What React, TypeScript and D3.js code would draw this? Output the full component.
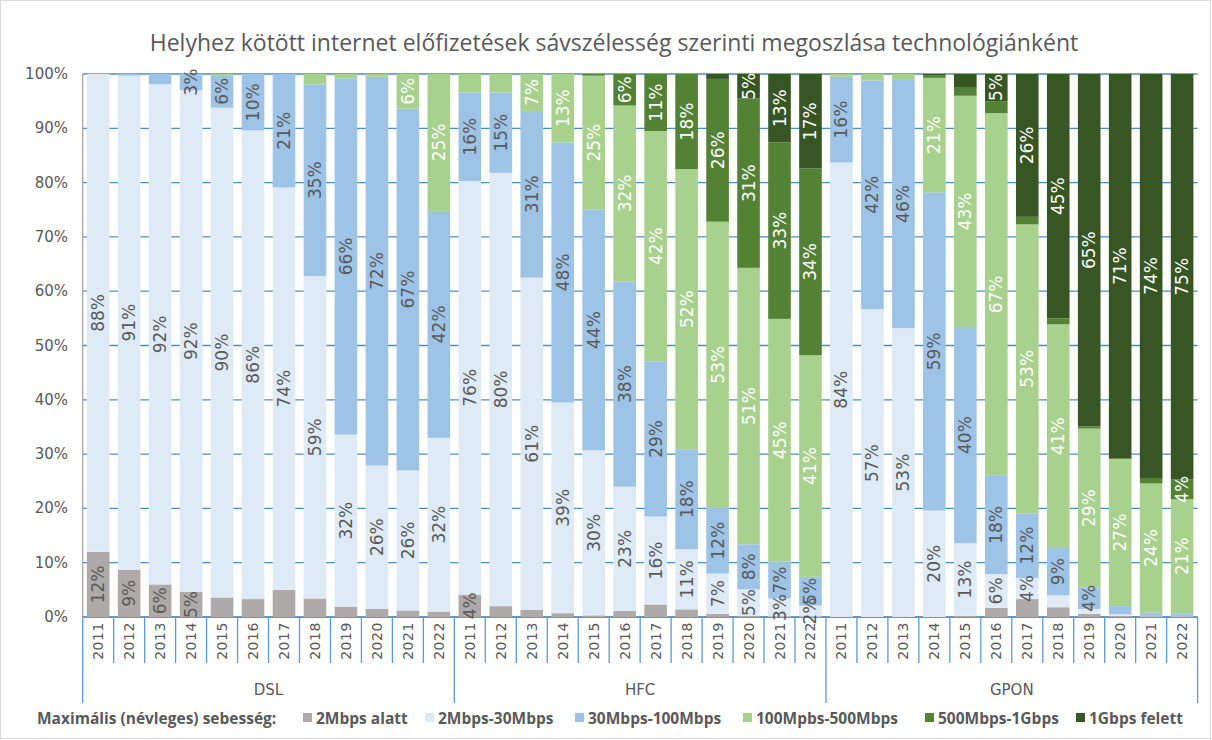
import React from 'react'
import * as d3 from 'd3'

const title = 'Helyhez kötött internet előfizetések sávszélesség szerinti megoszlása technológiánként'
const technologies = ['DSL', 'HFC', 'GPON']
const years = ['2011', '2012', '2013', '2014', '2015', '2016', '2017', '2018', '2019', '2020', '2021', '2022']
const seriesNames = ['2Mbps alatt', '2Mbps-30Mbps', '30Mbps-100Mbps', '100Mpbs-500Mbps', '500Mbps-1Gbps', '1Gbps felett']
const legendTitle = 'Maximális (névleges) sebesség:'
const yTicks = [0, 10, 20, 30, 40, 50, 60, 70, 80, 90, 100]

// values in %, DSL 2011-2022, then HFC, then GPON
const below2 = [
  12.0, 8.7, 6.0, 4.6, 3.6, 3.3, 5.0, 3.4, 1.9, 1.5, 1.2, 1.0,
  4.1, 2.0, 1.3, 0.7, 0.3, 1.1, 2.3, 1.4, 0.6, 0.2, 0.1, 0.1,
  0, 0, 0, 0, 0.2, 1.7, 3.3, 1.8, 0.6, 0.2, 0.1, 0.1,
]
const from2to30 = [
  88.0, 91.0, 92.1, 92.4, 90.2, 86.3, 74.1, 59.4, 31.7, 26.4, 25.8, 32.0,
  76.2, 79.8, 61.2, 38.8, 30.4, 22.9, 16.2, 11.1, 7.4, 4.9, 3.3, 2.0,
  83.7, 56.7, 53.2, 19.6, 13.4, 6.2, 3.9, 2.2, 0.9, 0.3, 0.1, 0.1,
]
const from30to100 = [
  0, 0.3, 1.9, 3.0, 6.0, 10.4, 20.9, 35.3, 65.6, 71.6, 66.6, 41.8,
  16.3, 14.8, 30.7, 47.9, 44.3, 37.8, 28.6, 18.4, 12.1, 8.3, 6.8, 5.3,
  15.8, 42.1, 45.7, 58.6, 39.8, 18.1, 11.9, 8.7, 3.9, 1.5, 0.6, 0.5,
]
const from100to500 = [
  0, 0, 0, 0, 0.2, 0, 0, 1.9, 0.8, 0.5, 6.4, 25.2,
  3.4, 3.4, 6.8, 12.6, 24.7, 32.4, 42.4, 51.6, 52.7, 50.9, 44.7, 40.8,
  0.5, 1.2, 1.1, 21.1, 42.6, 66.8, 53.2, 41.2, 29.3, 27.1, 23.8, 21.0,
]
const from500to1g = [
  0, 0, 0, 0, 0, 0, 0, 0, 0, 0, 0, 0,
  0, 0, 0, 0, 0.3, 5.8, 10.5, 17.5, 26.3, 31.2, 32.5, 34.4,
  0, 0, 0, 0.4, 1.6, 2.2, 1.4, 1.1, 0.4, 0.1, 1.0, 3.6,
]
const above1g = [
  0, 0, 0, 0, 0, 0, 0, 0, 0, 0, 0, 0,
  0, 0, 0, 0, 0, 0, 0, 0, 0.9, 4.5, 12.6, 17.4,
  0, 0, 0, 0.3, 2.4, 5.0, 26.3, 45.0, 64.9, 70.9, 74.4, 74.8,
]

// data labels: shown from 4% up, with these exceptions
const hiddenLabels = ['DSL-2017-0']
const extraLabels = ['DSL-2014-2', 'HFC-2021-1', 'HFC-2022-1', 'GPON-2017-1', 'GPON-2019-2', 'GPON-2022-4']

const colors = ['#AEAAAA', '#DEEBF7', '#9DC3E6', '#A9D18E', '#548235', '#375623']
const labelColors = ['#595959', '#595959', '#595959', '#FFFFFF', '#FFFFFF', '#FFFFFF']
const legendX = [303, 425, 575, 743, 925, 1076]

const W = 1212
const H = 740
const left = 82.7
const right = 1197.6
const top = 74
const bottom = 617
const font = '"DejaVu Sans", sans-serif'

export default function App() {
  const seriesValues = [below2, from2to30, from30to100, from100to500, from500to1g, above1g]
  const rows = technologies.flatMap((t, ti) =>
    years.map((yr, yi) => {
      const i = ti * 12 + yi
      const row: any = { tech: t, year: yr, idx: i }
      seriesNames.forEach((s, si) => (row[s] = seriesValues[si][i]))
      return row
    })
  )
  const stacked = d3.stack<any>().keys(seriesNames)(rows)

  const x = d3.scaleBand<number>().domain(d3.range(rows.length)).range([left, right]).paddingInner(0.27).paddingOuter(0.135)
  const y = d3.scaleLinear().domain([0, 100]).range([bottom, top])
  const step = x.step()
  const fmt = (v: number) => `${Math.round(v)}%`

  return (
    <svg width={W} height={H} style={{ position: 'absolute', left: 0, top: 0, background: '#fff' }}>
      <rect x={0.5} y={0.5} width={W - 2} height={H - 2} fill="#fff" stroke="#D9D9D9" />
      <text x={614} y={42} textAnchor="middle" dominantBaseline="central" fontFamily='"Open Sans", sans-serif' fontSize={23} fill="#595959">
        {title}
      </text>

      {yTicks.map(t => (
        <g key={t}>
          <line x1={left} x2={right} y1={y(t)} y2={y(t)} stroke={t === 0 ? '#2E75B6' : '#4A8CC8'} strokeWidth={t === 0 ? 1.5 : 1.3} />
          <text x={68} y={y(t)} textAnchor="end" dominantBaseline="central" fontFamily={font} fontSize={15} fill="#595959">
            {t}%
          </text>
        </g>
      ))}
      <line x1={left} x2={left} y1={top} y2={bottom} stroke="#A6A6A6" strokeWidth={1.3} />

      {stacked.map((layer, si) => (
        <g key={layer.key} fill={colors[si]}>
          {layer.map((d, i) => {
            const y0 = y(Math.min(d[0], 100))
            const y1 = y(Math.min(d[1], 100))
            return <rect key={i} x={x(i)} width={x.bandwidth()} y={y1} height={Math.max(0, y0 - y1)} />
          })}
        </g>
      ))}

      {stacked.map((layer, si) =>
        layer.map((d, i) => {
          const v = d[1] - d[0]
          const key = `${d.data.tech}-${d.data.year}-${si}`
          const show = (v >= 4 && !hiddenLabels.includes(key)) || extraLabels.includes(key)
          if (!show) return null
          const cx = (x(i) as number) + x.bandwidth() / 2
          const cy = (y(Math.min(d[0], 100)) + y(Math.min(d[1], 100))) / 2
          return (
            <text
              key={`${si}-${i}`}
              transform={`translate(${cx},${cy}) rotate(-90)`}
              textAnchor="middle"
              dominantBaseline="central"
              fontFamily={font}
              fontSize={17}
              fill={labelColors[si]}
            >
              {fmt(v)}
            </text>
          )
        })
      )}

      {d3.range(rows.length + 1).map(i => (
        <line
          key={i}
          x1={left + i * step}
          x2={left + i * step}
          y1={bottom}
          y2={i % 12 === 0 ? 703 : 663}
          stroke="#5B9BD5"
          strokeWidth={1.3}
        />
      ))}
      {rows.map((r, i) => (
        <text
          key={i}
          transform={`translate(${(x(i) as number) + x.bandwidth() / 2},${641}) rotate(-90)`}
          textAnchor="middle"
          dominantBaseline="central"
          fontFamily={font}
          fontSize={14}
          letterSpacing={0.5}
          fill="#595959"
        >
          {r.year}
        </text>
      ))}
      {technologies.map((t, ti) => (
        <text
          key={t}
          x={left + (ti * 12 + 6) * step}
          y={690}
          textAnchor="middle"
          dominantBaseline="central"
          fontFamily={font}
          fontSize={15}
          fill="#595959"
        >
          {t}
        </text>
      ))}

      <g fontFamily='"Open Sans", sans-serif' fontWeight="bold" fontSize={15.5} fill="#595959">
        <text x={37} y={718} dominantBaseline="central">
          {legendTitle}
        </text>
        {seriesNames.map((s, si) => (
          <g key={s}>
            <rect x={legendX[si]} y={713} width={9} height={9} fill={colors[si]} />
            <text x={legendX[si] + 13} y={718} dominantBaseline="central">
              {s}
            </text>
          </g>
        ))}
      </g>
    </svg>
  )
}
